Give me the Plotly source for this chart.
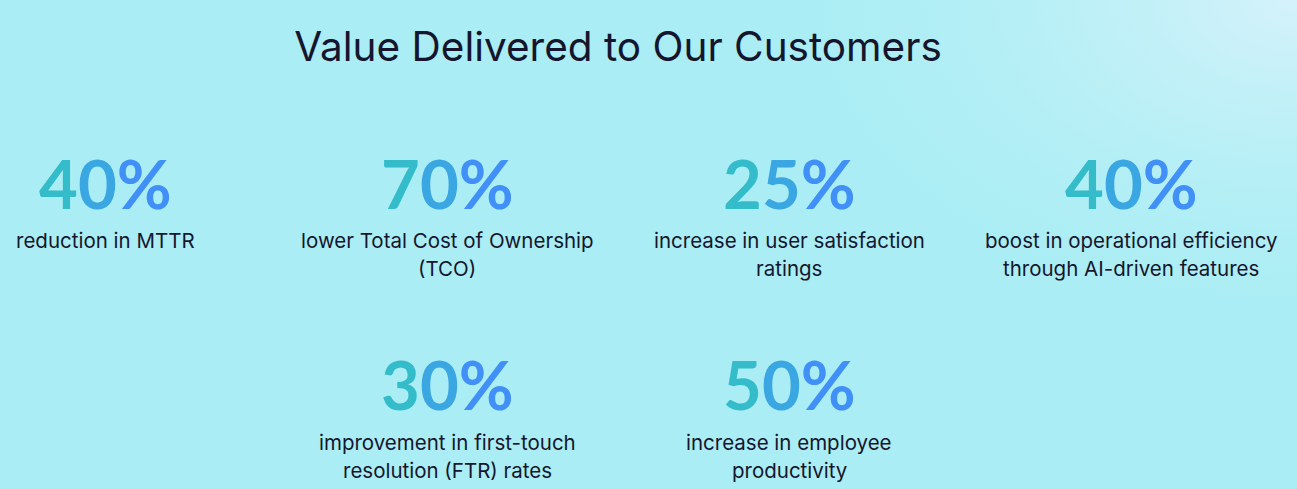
import plotly.graph_objects as go

title = "Value Delivered to Our Customers"
values = ["40", "70", "25", "40", "30", "50"]
labels = [
    "reduction in MTTR",
    "lower Total Cost of Ownership<br>(TCO)",
    "increase in user satisfaction<br>ratings",
    "boost in operational efficiency<br>through AI-driven features",
    "improvement in first-touch<br>resolution (FTR) rates",
    "increase in employee<br>productivity",
]
cols = [0, 1, 2, 3, 1, 2]
rows = [0, 0, 0, 0, 1, 1]

GRAD = ["#34BCCB", "#3AA7E2", "#4190F8"]
TEXT = "#15162E"
BG = "#AAEDF4"
FONT = "Inter"
NUMFONT = "Lato"

def gradient_number(v):
    chars = list(v) + ["%"]
    out = []
    for i, ch in enumerate(chars):
        out.append(f"<span style='color:{GRAD[min(i, 2)]}'>{ch}</span>")
    return "".join(out)

fig = go.Figure()
# soft light glow in the top-right corner of the background
fig.add_trace(go.Scatter(
    x=[0.55, 1.45, 1.45, 0.55, 0.55], y=[0.25, 0.25, 1.75, 1.75, 0.25],
    xaxis="x2", yaxis="y2", mode="lines", line=dict(width=0),
    fill="toself",
    fillgradient=dict(type="radial",
                      colorscale=[[0, "rgba(215,242,251,0.95)"],
                                  [0.5, "rgba(190,240,247,0.6)"],
                                  [1, "rgba(170,237,244,0)"]]),
    hoverinfo="skip", showlegend=False))
fig.add_trace(go.Scatter(x=cols, y=rows, mode="markers",
                         marker=dict(opacity=0), hoverinfo="skip", showlegend=False))

for c, r, v, lab in zip(cols, rows, values, labels):
    fig.add_annotation(x=c, y=r, xref="x", yref="y", text=gradient_number(v),
                       showarrow=False, xanchor="center", yanchor="middle",
                       font=dict(family=NUMFONT, size=67, color=GRAD[1], weight=700))
    for k, line in enumerate(lab.split("<br>")):
        fig.add_annotation(x=c, y=r, xref="x", yref="y", text=line,
                           showarrow=False, xanchor="center", yanchor="middle",
                           yshift=-(58 + 28 * k), align="center",
                           font=dict(family=FONT, size=20.5, color=TEXT, weight=400))

fig.update_layout(
    width=1297, height=489,
    margin=dict(l=0, r=0, t=0, b=0),
    paper_bgcolor=BG,
    plot_bgcolor="rgba(0,0,0,0)",
    title=dict(text=title, x=0.4765, xanchor="center", y=0.905, yanchor="middle",
               font=dict(family=FONT, size=40.5, color=TEXT, weight=400)),
    xaxis=dict(range=[-0.307, 3.485], visible=False),
    yaxis=dict(range=[1.522, -0.910], visible=False),
    xaxis2=dict(range=[0, 1], visible=False, overlaying="x"),
    yaxis2=dict(range=[0, 1], visible=False, overlaying="y"),
)

fig.write_html("out.html", config={"displayModeBar": False},
               post_script=f"document.body.style.margin='0';document.body.style.background='{BG}';")
